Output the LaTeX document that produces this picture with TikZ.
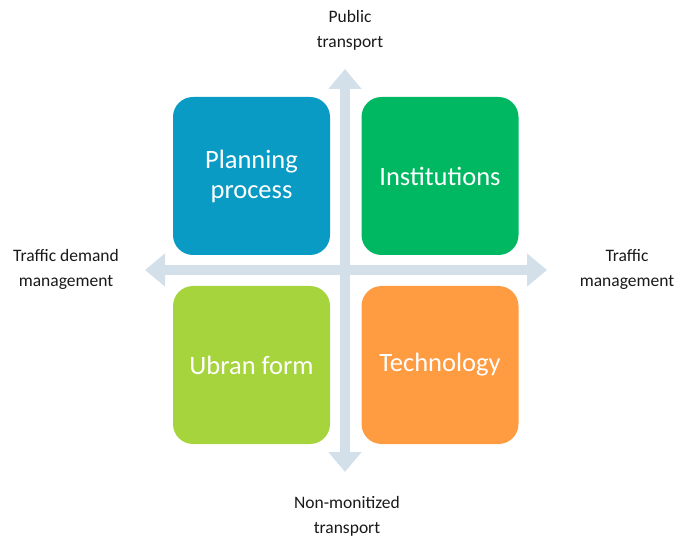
\documentclass[tikz,border=0pt]{standalone}
\usepackage{fontspec}
\setmainfont{Carlito}
\usetikzlibrary{arrows.meta}
\definecolor{axisc}{HTML}{D3E0E9}
\definecolor{cblue}{HTML}{0A9BC4}
\definecolor{cgreen}{HTML}{00B862}
\definecolor{clime}{HTML}{A6D43C}
\definecolor{corange}{HTML}{FF9C42}
\tikzset{
  quad/.style={fill=#1, draw=none, rounded corners=20pt, minimum width=157pt, minimum height=158pt,
    text=white, align=center, font=\fontsize{26.5}{30}\selectfont, inner sep=0pt},
  axislabel/.style={align=center, font=\fontsize{17.5}{25}\selectfont, text=black!90},
  axisarrow/.style={draw=axisc, line width=10pt,
    {Triangle[width=32pt,length=20pt]}-{Triangle[width=32pt,length=20pt]}}
}
\begin{document}
\begin{tikzpicture}[x=1pt,y=1pt]
\useasboundingbox (0,0) rectangle (688,536);
\coordinate (top) at (345,467);
\coordinate (bot) at (345,64);
\coordinate (lft) at (145,266);
\coordinate (rgt) at (547,266);
\draw[axisarrow] (bot) -- (top);
\draw[axisarrow] (lft) -- (rgt);
\node[quad=cblue] (pp) at (251.5,360) {Planning\\process};
\node[quad=cgreen] (in) at (440,360) {Institutions};
\node[quad=clime] (uf) at (251.5,171) {Ubran form};
\node[quad=corange] (te) at (440,171) {Technology};
\node[axislabel] (lt) at (350,506) {Public\\transport};
\node[axislabel] (lb) at (347,20) {Non-monitized\\transport};
\node[axislabel] (ll) at (66,267) {Traffic demand\\management};
\node[axislabel] (lr) at (627,267) {Traffic\\management};
\end{tikzpicture}
\end{document}
